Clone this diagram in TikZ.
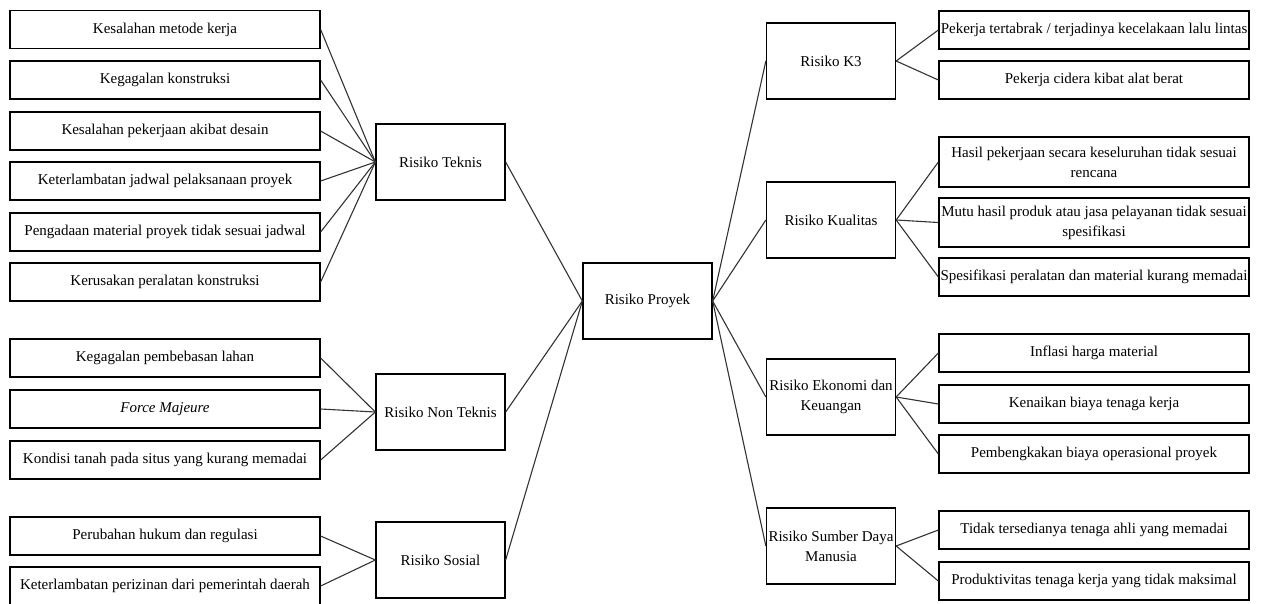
\documentclass[tikz,border=0pt]{standalone}
\usepackage{fontspec}
\setmainfont{Liberation Serif}
\usetikzlibrary{positioning}
\tikzset{font=\fontsize{15}{20}\selectfont}
\tikzstyle{leaf}=[draw,rectangle,line width=1.3pt,minimum width=310pt,minimum height=38pt,inner sep=1pt,align=center]
\tikzstyle{risk}=[draw,rectangle,line width=1.3pt,minimum width=129pt,minimum height=76pt,inner sep=1pt,align=center]
\tikzset{every picture/.style={line width=0.5pt}}

\begin{document}
\begin{tikzpicture}[x=1pt,y=-1pt]
\useasboundingbox (0,0) rectangle (1264,603);
% centre
\node[risk] (RP) at (647.5,301) {Risiko Proyek};
% left side
\node[risk] (RT) at (440.5,162) {Risiko Teknis};
\node[risk] (RN) at (440.5,412) {Risiko Non Teknis};
\node[risk] (RS) at (440.5,560) {Risiko Sosial};
\node[leaf] (T1) at (165,29.5) {Kesalahan metode kerja};
\node[leaf] (T2) at (165,80) {Kegagalan konstruksi};
\node[leaf] (T3) at (165,131) {Kesalahan pekerjaan akibat desain};
\node[leaf] (T4) at (165,181) {Keterlambatan jadwal pelaksanaan proyek};
\node[leaf] (T5) at (165,232) {Pengadaan material proyek tidak sesuai jadwal};
\node[leaf] (T6) at (165,282) {Kerusakan peralatan konstruksi};
\node[leaf] (N1) at (165,358) {Kegagalan pembebasan lahan};
\node[leaf] (N2) at (165,409) {\textit{Force Majeure}};
\node[leaf] (N3) at (165,460) {Kondisi tanah pada situs yang kurang memadai};
\node[leaf] (S1) at (165,536) {Perubahan hukum dan regulasi};
\node[leaf] (S2) at (165,586) {Keterlambatan perizinan dari pemerintah daerah};
% right side
\node[risk] (RK) at (831,61) {Risiko K3};
\node[risk] (RQ) at (831,220) {Risiko Kualitas};
\node[risk] (RE) at (831,397) {Risiko Ekonomi dan\\Keuangan};
\node[risk] (RM) at (831,546) {Risiko Sumber Daya\\Manusia};
\node[leaf] (K1) at (1094,30) {Pekerja tertabrak / terjadinya kecelakaan lalu lintas};
\node[leaf] (K2) at (1094,80) {Pekerja cidera kibat alat berat};
\node[leaf,minimum height=50pt] (Q1) at (1094,162) {Hasil pekerjaan secara keseluruhan tidak sesuai\\rencana};
\node[leaf,minimum height=49pt] (Q2) at (1094,222.5) {Mutu hasil produk atau jasa pelayanan tidak sesuai\\spesifikasi};
\node[leaf] (Q3) at (1094,277) {Spesifikasi peralatan dan material kurang memadai};
\node[leaf] (E1) at (1094,353) {Inflasi harga material};
\node[leaf] (E2) at (1094,404) {Kenaikan biaya tenaga kerja};
\node[leaf] (E3) at (1094,454) {Pembengkakan biaya operasional proyek};
\node[leaf] (M1) at (1094,530) {Tidak tersedianya tenaga ahli yang memadai};
\node[leaf] (M2) at (1094,581) {Produktivitas tenaga kerja yang tidak maksimal};
\path[draw=black!80,line width=1.1pt]
(RP.west) edge (RT.east)
(RP.west) edge (RN.east)
(RP.west) edge (RS.east)
(RP.east) edge (RK.west)
(RP.east) edge (RQ.west)
(RP.east) edge (RE.west)
(RP.east) edge (RM.west)
(T1.east) edge (RT.west)
(T2.east) edge (RT.west)
(T3.east) edge (RT.west)
(T4.east) edge (RT.west)
(T5.east) edge (RT.west)
(T6.east) edge (RT.west)
(N1.east) edge (RN.west)
(N2.east) edge (RN.west)
(N3.east) edge (RN.west)
(S1.east) edge (RS.west)
(S2.east) edge (RS.west)
(RK.east) edge (K1.west)
(RK.east) edge (K2.west)
(RQ.east) edge (Q1.west)
(RQ.east) edge (Q2.west)
(RQ.east) edge (Q3.west)
(RE.east) edge (E1.west)
(RE.east) edge (E2.west)
(RE.east) edge (E3.west)
(RM.east) edge (M1.west)
(RM.east) edge (M2.west);
\end{tikzpicture}
\end{document}
